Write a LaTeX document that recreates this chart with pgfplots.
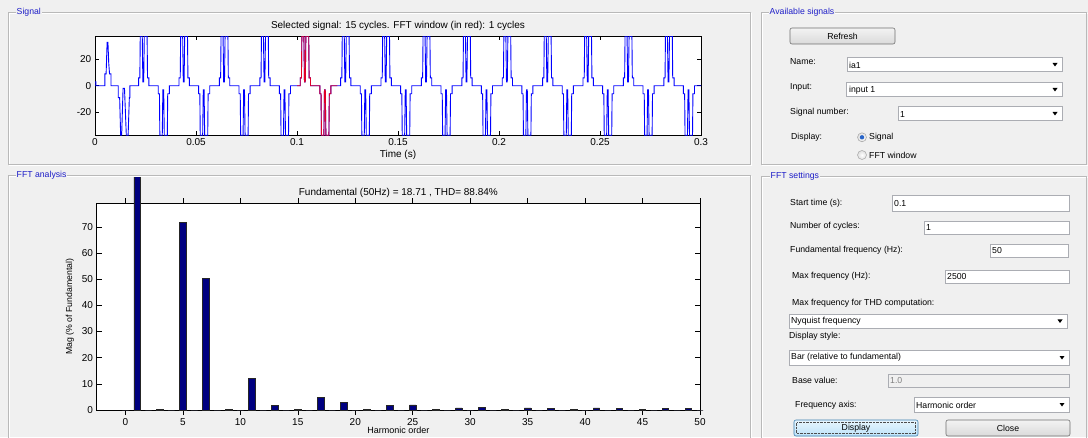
\documentclass[border=0pt]{standalone}
\usepackage{pgfplots}
\pgfplotsset{compat=1.18}
\usepackage{fontspec}
\setmainfont{Liberation Sans}
\definecolor{bg}{RGB}{240,240,240}
\definecolor{frame}{RGB}{185,185,185}
\definecolor{lbl}{RGB}{30,30,200}
\definecolor{navybar}{RGB}{0,0,128}
\definecolor{sigred}{RGB}{225,0,40}
\definecolor{sigblue}{RGB}{0,0,255}
\definecolor{boxb}{RGB}{171,173,179}
\definecolor{btnb}{RGB}{112,112,112}
\definecolor{btntop}{RGB}{243,243,243}
\definecolor{btnbot}{RGB}{218,218,218}
\definecolor{dbtop}{RGB}{232,245,253}
\definecolor{dbbot}{RGB}{190,228,250}
\definecolor{dbb}{RGB}{60,127,177}
\definecolor{radiodot}{RGB}{40,100,200}
\pgfplotsset{
  guiax/.style={
    scale only axis, anchor=south west, tick align=inside,
    axis background/.style={fill=white},
    axis line style={line width=0.7pt},
    tick style={line width=0.6pt, black},
    ticklabel style={font=\fontsize{10}{12}\selectfont},
    xticklabel style={inner sep=0pt, yshift=-3.5pt},
    yticklabel style={inner sep=0pt, xshift=-3.5pt},
    /pgf/number format/assume math mode=true,
    label style={font=\fontsize{9.5}{11}\selectfont, inner sep=0pt},
    title style={font=\fontsize{10}{12}\selectfont, at={(axis description cs:0.5,1)}, anchor=center, yshift=4pt},
    xlabel style={at={(axis description cs:0.5,0)}, anchor=center},
  }
}
\begin{document}
\begin{tikzpicture}
\fill[bg] (0,0) rectangle (1088pt,437pt);
% ---------- panels ----------
\begin{scope}[x=1pt,y=-1pt,yshift=437pt]
  \draw[white,line width=0.8pt] (9.3,13.7) rectangle (751,165.3);
  \draw[frame,line width=0.8pt] (8.3,12.7) rectangle (750,164.3);
  \draw[white,line width=0.8pt] (9.3,176.7) rectangle (751,445);
  \draw[frame,line width=0.8pt] (8.3,175.7) rectangle (750,445);
  \draw[white,line width=0.8pt] (762.7,13.7) rectangle (1092,165.3);
  \draw[frame,line width=0.8pt] (761.7,12.7) rectangle (1086.5,164.3);
  \draw[white,line width=0.8pt] (762.7,177.3) rectangle (1092,445);
  \draw[frame,line width=0.8pt] (761.7,176.3) rectangle (1086.5,445);
  \begin{scope}[font=\fontsize{8.7}{10}\selectfont]
  \node[anchor=west,fill=bg,text=lbl,inner sep=1pt] at (15.5,12.7) {Signal};
  \node[anchor=west,fill=bg,text=lbl,inner sep=1pt] at (15.5,175.7) {FFT analysis};
  \node[anchor=west,fill=bg,text=lbl,inner sep=1pt] at (768.5,12.7) {Available signals};
  \node[anchor=west,fill=bg,text=lbl,inner sep=1pt] at (769.5,176.3) {FFT settings};
  \end{scope}
\end{scope}
% ---------- signal axis ----------
\begin{axis}[guiax,
  at={(95pt,301.7pt)}, width=606pt, height=99pt,
  xmin=0, xmax=0.3, ymin=-37.5, ymax=37.5,
  xtick={0,0.05,0.1,0.15,0.2,0.25,0.3},
  xticklabels={0,0.05,0.1,0.15,0.2,0.25,0.3},
  ytick={-20,0,20}, yticklabels={-20,0,20},
  major tick length=4pt,
  xlabel={Time (s)}, xlabel style={yshift=-20pt, font=\fontsize{10}{12}\selectfont},
  title={Selected signal: 15 cycles. FFT window (in red): 1 cycles},
]
\addplot[sigblue, line width=0.9pt] coordinates {
(0,3)(0.0004,3)(0.0004,0)(0.0049,0)(0.0049,9)(0.0055,9)(0.0060,33)(0.0064,33)(0.0068,17)(0.0072,9)(0.0079,9)(0.0079,0)
(0.0115,0)(0.0115,-9)(0.0122,-9)(0.0127,-37.5)(0.0132,-37.5)(0.0139,-2)(0.0146,-2)(0.0155,-37.5)(0.0164,-37.5)(0.0170,-9)(0.0173,-9)(0.0173,0)
(0.0216,0)(0.0216,6)(0.0222,6)(0.0224,37.5)(0.0234,37.5)(0.0237,3)(0.0241,3)(0.0244,37.5)(0.0258,37.5)(0.0260,6)(0.0267,6)(0.0267,0)
(0.0313,0)(0.0313,-6)(0.0319,-6)(0.0321,-37.5)(0.0333,-37.5)(0.0336,-3)(0.0340,-3)(0.0343,-37.5)(0.0358,-37.5)(0.0360,-6)(0.0368,-6)(0.0368,0)
(0.0416,0)(0.0416,6)(0.0422,6)(0.0424,37.5)(0.0434,37.5)(0.0437,3)(0.0441,3)(0.0444,37.5)(0.0458,37.5)(0.0460,6)(0.0467,6)(0.0467,0)
(0.0513,0)(0.0513,-6)(0.0519,-6)(0.0521,-37.5)(0.0533,-37.5)(0.0536,-3)(0.0540,-3)(0.0543,-37.5)(0.0558,-37.5)(0.0560,-6)(0.0568,-6)(0.0568,0)
(0.0616,0)(0.0616,6)(0.0622,6)(0.0624,37.5)(0.0634,37.5)(0.0637,3)(0.0641,3)(0.0644,37.5)(0.0658,37.5)(0.0660,6)(0.0667,6)(0.0667,0)
(0.0713,0)(0.0713,-6)(0.0719,-6)(0.0721,-37.5)(0.0733,-37.5)(0.0736,-3)(0.0740,-3)(0.0743,-37.5)(0.0758,-37.5)(0.0760,-6)(0.0768,-6)(0.0768,0)
(0.0816,0)(0.0816,6)(0.0822,6)(0.0824,37.5)(0.0834,37.5)(0.0837,3)(0.0841,3)(0.0844,37.5)(0.0858,37.5)(0.0860,6)(0.0867,6)(0.0867,0)
(0.0913,0)(0.0913,-6)(0.0919,-6)(0.0921,-37.5)(0.0933,-37.5)(0.0936,-3)(0.0940,-3)(0.0943,-37.5)(0.0958,-37.5)(0.0960,-6)(0.0968,-6)(0.0968,0)
(0.1016,0)(0.1016,6)(0.1022,6)(0.1024,37.5)(0.1034,37.5)(0.1037,3)(0.1041,3)(0.1044,37.5)(0.1058,37.5)(0.1060,6)(0.1067,6)(0.1067,0)
(0.1113,0)(0.1113,-6)(0.1119,-6)(0.1121,-37.5)(0.1133,-37.5)(0.1136,-3)(0.1140,-3)(0.1143,-37.5)(0.1158,-37.5)(0.1160,-6)(0.1168,-6)(0.1168,0)
(0.1216,0)(0.1216,6)(0.1222,6)(0.1224,37.5)(0.1234,37.5)(0.1237,3)(0.1241,3)(0.1244,37.5)(0.1258,37.5)(0.1260,6)(0.1267,6)(0.1267,0)
(0.1313,0)(0.1313,-6)(0.1319,-6)(0.1321,-37.5)(0.1333,-37.5)(0.1336,-3)(0.1340,-3)(0.1343,-37.5)(0.1358,-37.5)(0.1360,-6)(0.1368,-6)(0.1368,0)
(0.1416,0)(0.1416,6)(0.1422,6)(0.1424,37.5)(0.1434,37.5)(0.1437,3)(0.1441,3)(0.1444,37.5)(0.1458,37.5)(0.1460,6)(0.1467,6)(0.1467,0)
(0.1513,0)(0.1513,-6)(0.1519,-6)(0.1521,-37.5)(0.1533,-37.5)(0.1536,-3)(0.1540,-3)(0.1543,-37.5)(0.1558,-37.5)(0.1560,-6)(0.1568,-6)(0.1568,0)
(0.1616,0)(0.1616,6)(0.1622,6)(0.1624,37.5)(0.1634,37.5)(0.1637,3)(0.1641,3)(0.1644,37.5)(0.1658,37.5)(0.1660,6)(0.1667,6)(0.1667,0)
(0.1713,0)(0.1713,-6)(0.1719,-6)(0.1721,-37.5)(0.1733,-37.5)(0.1736,-3)(0.1740,-3)(0.1743,-37.5)(0.1758,-37.5)(0.1760,-6)(0.1768,-6)(0.1768,0)
(0.1816,0)(0.1816,6)(0.1822,6)(0.1824,37.5)(0.1834,37.5)(0.1837,3)(0.1841,3)(0.1844,37.5)(0.1858,37.5)(0.1860,6)(0.1867,6)(0.1867,0)
(0.1913,0)(0.1913,-6)(0.1919,-6)(0.1921,-37.5)(0.1933,-37.5)(0.1936,-3)(0.1940,-3)(0.1943,-37.5)(0.1958,-37.5)(0.1960,-6)(0.1968,-6)(0.1968,0)
(0.2016,0)(0.2016,6)(0.2022,6)(0.2024,37.5)(0.2034,37.5)(0.2037,3)(0.2041,3)(0.2044,37.5)(0.2058,37.5)(0.2060,6)(0.2067,6)(0.2067,0)
(0.2113,0)(0.2113,-6)(0.2119,-6)(0.2121,-37.5)(0.2133,-37.5)(0.2136,-3)(0.2140,-3)(0.2143,-37.5)(0.2158,-37.5)(0.2160,-6)(0.2168,-6)(0.2168,0)
(0.2216,0)(0.2216,6)(0.2222,6)(0.2224,37.5)(0.2234,37.5)(0.2237,3)(0.2241,3)(0.2244,37.5)(0.2258,37.5)(0.2260,6)(0.2267,6)(0.2267,0)
(0.2313,0)(0.2313,-6)(0.2319,-6)(0.2321,-37.5)(0.2333,-37.5)(0.2336,-3)(0.2340,-3)(0.2343,-37.5)(0.2358,-37.5)(0.2360,-6)(0.2368,-6)(0.2368,0)
(0.2416,0)(0.2416,6)(0.2422,6)(0.2424,37.5)(0.2434,37.5)(0.2437,3)(0.2441,3)(0.2444,37.5)(0.2458,37.5)(0.2460,6)(0.2467,6)(0.2467,0)
(0.2513,0)(0.2513,-6)(0.2519,-6)(0.2521,-37.5)(0.2533,-37.5)(0.2536,-3)(0.2540,-3)(0.2543,-37.5)(0.2558,-37.5)(0.2560,-6)(0.2568,-6)(0.2568,0)
(0.2616,0)(0.2616,6)(0.2622,6)(0.2624,37.5)(0.2634,37.5)(0.2637,3)(0.2641,3)(0.2644,37.5)(0.2658,37.5)(0.2660,6)(0.2667,6)(0.2667,0)
(0.2713,0)(0.2713,-6)(0.2719,-6)(0.2721,-37.5)(0.2733,-37.5)(0.2736,-3)(0.2740,-3)(0.2743,-37.5)(0.2758,-37.5)(0.2760,-6)(0.2768,-6)(0.2768,0)
(0.2816,0)(0.2816,6)(0.2822,6)(0.2824,37.5)(0.2834,37.5)(0.2837,3)(0.2841,3)(0.2844,37.5)(0.2858,37.5)(0.2860,6)(0.2867,6)(0.2867,0)
(0.2913,0)(0.2913,-6)(0.2919,-6)(0.2921,-37.5)(0.2933,-37.5)(0.2936,-3)(0.2940,-3)(0.2943,-37.5)(0.2958,-37.5)(0.2960,-6)(0.2968,-6)(0.2968,0)
(0.3,0)
};
\addplot[sigred, line width=0.9pt] coordinates {
(0.1,0)
(0.1016,0)(0.1016,6)(0.1022,6)(0.1024,37.5)(0.1034,37.5)(0.1037,3)(0.1041,3)(0.1044,37.5)(0.1058,37.5)(0.1060,6)(0.1067,6)(0.1067,0)
(0.1113,0)(0.1113,-6)(0.1119,-6)(0.1121,-37.5)(0.1133,-37.5)(0.1136,-3)(0.1140,-3)(0.1143,-37.5)(0.1158,-37.5)(0.1160,-6)(0.1168,-6)(0.1168,0)
(0.12,0)
};
\end{axis}
% ---------- FFT axis ----------
\begin{scope}
\clip (0pt,0pt) rectangle (1088pt,259pt);
\begin{axis}[guiax,
  at={(96.7pt,27pt)}, width=603.3pt, height=206.7pt,
  xmin=-2.5, xmax=50, ymin=0, ymax=79, clip=false,
  xtick={0,5,...,50}, ytick={0,10,...,70},
  major tick length=5pt,
  ybar, bar width=0.55,
  xlabel={Harmonic order}, xlabel style={yshift=-20.5pt, font=\fontsize{9}{11}\selectfont},
  ylabel={Mag (\% of Fundamental)},
  ylabel style={at={(axis description cs:-0.0443,0.5)}, anchor=center, font=\fontsize{8.7}{10}\selectfont},
  title={Fundamental (50Hz) = 18.71 , THD= 88.84\%},
]
\addplot[fill=navybar, draw=black!85, line width=0.5pt] coordinates {
(0,0)(1,100)(2,0)(3,0.3)(4,0)(5,71.8)(6,0)(7,50.3)(8,0)(9,0.3)(10,0)
(11,12.0)(12,0)(13,1.8)(14,0)(15,0.3)(16,0)(17,4.8)(18,0)(19,2.8)(20,0)
(21,0.3)(22,0)(23,1.7)(24,0)(25,2.0)(26,0)(27,0.3)(28,0)(29,0.8)(30,0)
(31,1.0)(32,0)(33,0.3)(34,0)(35,0.8)(36,0)(37,0.5)(38,0)(39,0.3)(40,0)
(41,0.8)(42,0)(43,0.5)(44,0)(45,0.3)(46,0)(47,0.5)(48,0)(49,0.5)(50,0)
};
\end{axis}
\end{scope}
% ---------- GUI controls ----------
\begin{scope}[x=1pt,y=-1pt,yshift=437pt,font=\fontsize{8.7}{10}\selectfont]
  % Available signals
  \shade[top color=btntop,bottom color=btnbot,rounded corners=2pt] (790,28) rectangle (895,44);
  \draw[btnb,rounded corners=2pt,line width=0.6pt] (790,28) rectangle (895,44);
  \node at (842.5,36) {Refresh};
  \node[anchor=west,inner sep=0] at (790,62) {Name:};
  \draw[boxb,fill=white] (847,57) rectangle (1062,71);
  \node[anchor=west,inner sep=0] at (849,65.5) {ia1};
  \fill (1052.5,63) -- (1057.5,63) -- (1055,66.5) -- cycle;
  \node[anchor=west,inner sep=0] at (790,87.3) {Input:};
  \draw[boxb,fill=white] (846,82) rectangle (1062,96);
  \node[anchor=west,inner sep=0] at (849,90.5) {input 1};
  \fill (1052.5,88) -- (1057.5,88) -- (1055,91.5) -- cycle;
  \node[anchor=west,inner sep=0] at (790,112.7) {Signal number:};
  \draw[boxb,fill=white] (898,106) rectangle (1062,120);
  \node[anchor=west,inner sep=0] at (900,114.5) {1};
  \fill (1052.5,112) -- (1057.5,112) -- (1055,115.5) -- cycle;
  \node[anchor=west,inner sep=0] at (791,137.7) {Display:};
  \shade[inner color=white,outer color=gray!25] (862,137.3) circle[radius=4.5pt];
  \draw[gray!70,line width=0.5pt] (862,137.3) circle[radius=4.5pt];
  \fill[radiodot] (862,137.3) circle[radius=2.2pt];
  \node[anchor=west,inner sep=0] at (869,137.7) {Signal};
  \shade[inner color=white,outer color=gray!25] (862,155) circle[radius=4.5pt];
  \draw[gray!70,line width=0.5pt] (862,155) circle[radius=4.5pt];
  \node[anchor=west,inner sep=0] at (869,155.3) {FFT window};
  % FFT settings
  \node[anchor=west,inner sep=0] at (790,203) {Start time (s):};
  \draw[boxb,fill=white] (892,195) rectangle (1069,211);
  \node[anchor=west,inner sep=0] at (894,203.5) {0.1};
  \node[anchor=west,inner sep=0] at (790,226.3) {Number of cycles:};
  \draw[boxb,fill=white] (924,221) rectangle (1069,234);
  \node[anchor=west,inner sep=0] at (926,228) {1};
  \node[anchor=west,inner sep=0] at (790,250) {Fundamental frequency (Hz):};
  \draw[boxb,fill=white] (990,244) rectangle (1068,257);
  \node[anchor=west,inner sep=0] at (992,250.7) {50};
  \node[anchor=west,inner sep=0] at (792,276.7) {Max frequency (Hz):};
  \draw[boxb,fill=white] (945,270) rectangle (1069,283);
  \node[anchor=west,inner sep=0] at (947,276.7) {2500};
  \node[anchor=west,inner sep=0] at (792,303) {Max frequency for THD computation:};
  \draw[boxb,fill=white] (789,314) rectangle (1067,328);
  \node[anchor=west,inner sep=0] at (791,321) {Nyquist frequency};
  \fill (1057.5,319.5) -- (1062.5,319.5) -- (1060,323) -- cycle;
  \node[anchor=west,inner sep=0] at (789,336.3) {Display style:};
  \draw[boxb,fill=white] (789,350) rectangle (1069,365);
  \node[anchor=west,inner sep=0] at (791,357.7) {Bar (relative to fundamental)};
  \fill (1059.5,356) -- (1064.5,356) -- (1062,359.5) -- cycle;
  \node[anchor=west,inner sep=0] at (792,380.3) {Base value:};
  \draw[boxb,fill=bg] (888,374) rectangle (1069,387);
  \node[anchor=west,inner sep=0,text=gray] at (890,380.7) {1.0};
  \node[anchor=west,inner sep=0] at (795,405.3) {Frequency axis:};
  \draw[boxb,fill=white] (914,397) rectangle (1069,412);
  \node[anchor=west,inner sep=0] at (916,405) {Harmonic order};
  \fill (1059.5,403) -- (1064.5,403) -- (1062,406.5) -- cycle;
  \shade[top color=dbtop,bottom color=dbbot,rounded corners=2pt] (794,420) rectangle (918,436);
  \draw[dbb,rounded corners=2pt,line width=0.6pt] (794,420) rectangle (918,436);
  \draw[black!70,densely dotted,line width=0.4pt] (796.5,422.5) rectangle (915.5,433.5);
  \node at (856,428.5) {Display};
  \shade[top color=btntop,bottom color=btnbot,rounded corners=2pt] (946,420) rectangle (1070,436);
  \draw[btnb,rounded corners=2pt,line width=0.6pt] (946,420) rectangle (1070,436);
  \node at (1008,428.5) {Close};
\end{scope}
\pgfresetboundingbox
\path[use as bounding box] (0,0) rectangle (1088pt,437pt);
\end{tikzpicture}
\end{document}
